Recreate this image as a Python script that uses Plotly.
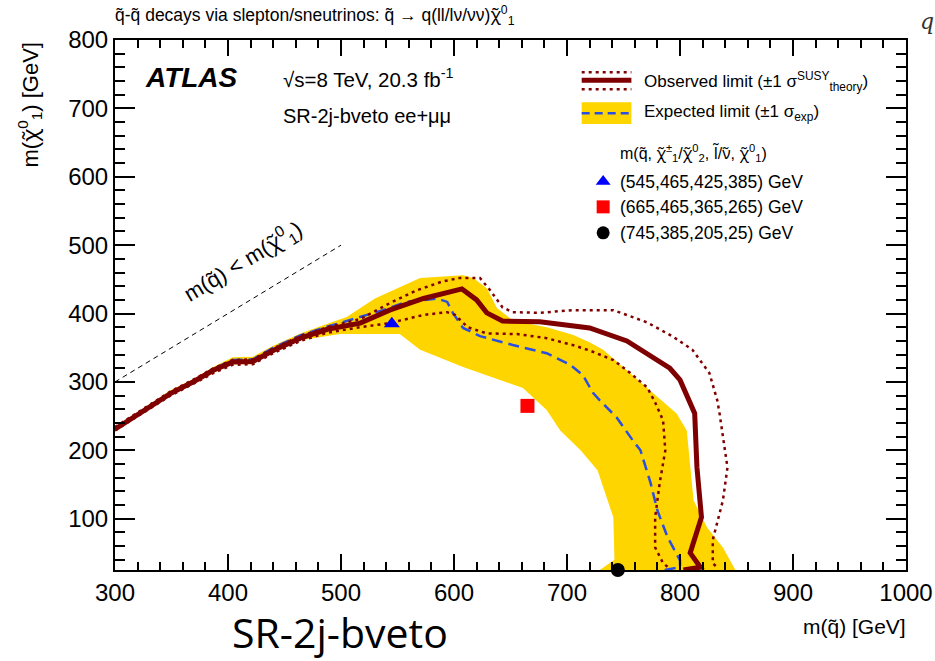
import plotly.graph_objects as go

# ---------------- data ----------------
obs_x = [300, 349, 369, 387, 404, 422, 440, 464, 488, 517, 543, 573, 607, 620, 629, 643, 676, 720, 753, 791, 800, 813, 815, 819, 809, 818, 803]
obs_y = [231, 283, 300, 317, 329, 330, 346, 364, 377, 386, 405, 422, 436, 420, 401, 389, 388, 379, 360, 320, 303, 254, 175, 102, 50, 29, 25]

obs_up_x = [300, 349, 369, 387, 404, 422, 440, 464, 488, 517, 543, 567, 590, 605, 623, 632, 643, 652, 676, 705, 720, 741, 771, 794, 811, 826, 833, 835, 842, 838, 829, 829, 834]
obs_up_y = [234, 286, 303, 320, 332, 333, 349, 367, 380, 392, 415, 434, 447, 452, 452, 434, 409, 402, 401, 405, 405, 405, 387, 366, 347, 313, 273, 254, 175, 127, 69, 35, 27]

obs_dn_x = [300, 349, 369, 387, 404, 422, 440, 464, 488, 517, 543, 573, 594, 601, 612, 629, 656, 682, 705, 720, 741, 756, 771, 778, 785, 787, 782, 778, 778, 785, 791]
obs_dn_y = [229, 280, 297, 313, 325, 326, 342, 360, 372, 380, 386, 398, 402, 398, 380, 371, 370, 364, 354, 346, 332, 313, 292, 270, 244, 200, 152, 102, 58, 35, 27]

exp_x = [300, 349, 369, 387, 404, 422, 440, 464, 488, 499, 537, 558, 585, 594, 599, 608, 623, 652, 682, 703, 714, 723, 729, 744, 758, 765, 774, 780, 789, 800, 800, 786]
exp_y = [230, 284, 301, 319, 332, 333, 350, 368, 381, 386, 405, 417, 422, 417, 401, 379, 367, 354, 342, 325, 310, 284, 273, 248, 215, 200, 152, 112, 73, 39, 29, 25]

band_up_x = [300, 349, 370, 387, 404, 422, 440, 464, 488, 505, 530, 570, 608, 617, 629, 638, 652, 682, 705, 720, 732, 756, 776, 797, 806, 809, 812, 824, 838, 849]
band_up_y = [233, 288, 305, 322, 336, 337, 353, 371, 385, 395, 422, 452, 456, 452, 437, 408, 390, 380, 369, 358, 347, 313, 284, 254, 229, 175, 127, 87, 58, 25]
band_dn_x = [729, 742, 741, 727, 712, 694, 682, 661, 608, 570, 552, 499, 464, 440, 422, 404, 387, 370, 349, 300]
band_dn_y = [25, 40, 102, 171, 200, 229, 259, 291, 322, 347, 370, 370, 361, 343, 326, 326, 313, 297, 280, 228]

kin_x = [300, 500]
kin_y = [300, 500]

pt_x = [545, 665, 745]
pt_y = [385, 265, 25]
pt_labels = ["(545,465,425,385) GeV", "(665,465,365,265) GeV", "(745,385,205,25) GeV"]
pt_symbols = ["triangle-up", "square", "circle"]
pt_colors = ["#0000ff", "#ff0000", "#000000"]

x_ticks = [300, 400, 500, 600, 700, 800, 900, 1000]
y_ticks = [100, 200, 300, 400, 500, 600, 700, 800]

# ---------------- styles ----------------
FONT = "Liberation Sans, Arial, Helvetica, sans-serif"
RED = "#7f0000"
BLUE = "#2a4fe0"
YEL = "#ffd500"
CHI = "<span style=\"font-family:'Noto Sans'\">χ̃</span>"
NU = "<span style=\"font-family:'Noto Sans'\">ν̃</span>"
LT = "<span style=\"font-family:'Noto Sans'\">l̃</span>"

fig = go.Figure()

fig.add_trace(go.Scatter(x=band_up_x + band_dn_x, y=band_up_y + band_dn_y, fill="toself",
                         fillcolor=YEL, line=dict(width=0), mode="lines", hoverinfo="skip"))
fig.add_trace(go.Scatter(x=kin_x, y=kin_y, mode="lines",
                         line=dict(color="black", width=1, dash="5px,4px")))
fig.add_trace(go.Scatter(x=exp_x, y=exp_y, mode="lines",
                         line=dict(color=BLUE, width=2.5, dash="11px,6px")))
fig.add_trace(go.Scatter(x=obs_up_x, y=obs_up_y, mode="lines",
                         line=dict(color=RED, width=2.5, dash="3px,4px")))
fig.add_trace(go.Scatter(x=obs_dn_x, y=obs_dn_y, mode="lines",
                         line=dict(color=RED, width=2.5, dash="3px,4px")))
fig.add_trace(go.Scatter(x=obs_x, y=obs_y, mode="lines",
                         line=dict(color=RED, width=5)))
for i in range(len(pt_x)):
    fig.add_trace(go.Scatter(x=[pt_x[i]], y=[pt_y[i]], mode="markers", cliponaxis=False,
                             marker=dict(symbol=pt_symbols[i], color=pt_colors[i], size=14,
                                         line=dict(width=0))))

# ---------------- legend (drawn by hand, ROOT style) ----------------
lx0, lx1 = 713, 757
fig.add_shape(type="line", xref="x", yref="y", x0=lx0, x1=lx1, y0=753, y1=753,
              line=dict(color=RED, width=2.5, dash="3px,4px"))
fig.add_shape(type="line", xref="x", yref="y", x0=lx0, x1=lx1, y0=728, y1=728,
              line=dict(color=RED, width=2.5, dash="3px,4px"))
fig.add_shape(type="line", xref="x", yref="y", x0=lx0, x1=lx1, y0=741, y1=741,
              line=dict(color=RED, width=5))
fig.add_shape(type="rect", xref="x", yref="y", x0=lx0, x1=lx1, y0=677, y1=709,
              fillcolor=YEL, line=dict(width=0))
fig.add_shape(type="line", xref="x", yref="y", x0=lx0, x1=lx1, y0=693, y1=693,
              line=dict(color=BLUE, width=2.5, dash="8px,5px"))

leg_text_x = 766
fig.add_annotation(x=leg_text_x, y=739, xref="x", yref="y", xanchor="left", yanchor="middle",
                   text="Observed limit (±1 σ<sup>SUSY</sup><sub>theory</sub>)", showarrow=False,
                   font=dict(family=FONT, size=17, color="black"))
fig.add_annotation(x=leg_text_x, y=693, xref="x", yref="y", xanchor="left", yanchor="middle",
                   text="Expected limit (±1 σ<sub>exp</sub>)", showarrow=False,
                   font=dict(family=FONT, size=17, color="black"))
fig.add_annotation(x=745, y=635, xref="x", yref="y", xanchor="left", yanchor="middle",
                   text="m(q̃, " + CHI + "<sup>±</sup><sub>1</sub>/" + CHI + "<sup>0</sup><sub>2</sub>, "
                        + LT + "/" + NU + ", " + CHI + "<sup>0</sup><sub>1</sub>)",
                   showarrow=False, font=dict(family=FONT, size=16, color="black"))
leg_pt_y = [593, 556, 518]
for i in range(len(pt_x)):
    fig.add_trace(go.Scatter(x=[732], y=[leg_pt_y[i]], mode="markers",
                             marker=dict(symbol=pt_symbols[i], color=pt_colors[i], size=13,
                                         line=dict(width=0))))
    fig.add_annotation(x=745, y=leg_pt_y[i], xref="x", yref="y", xanchor="left", yanchor="middle",
                       text=pt_labels[i], showarrow=False,
                       font=dict(family=FONT, size=17.5, color="black"))

# ---------------- texts ----------------
fig.add_annotation(x=325, y=745, xref="x", yref="y", xanchor="left", yanchor="middle",
                   text="<b><i>ATLAS</i></b>", showarrow=False,
                   font=dict(family=FONT, size=28, color="black"))
fig.add_annotation(x=447, y=744, xref="x", yref="y", xanchor="left", yanchor="middle",
                   text="√s=8 TeV, 20.3 fb<sup>-1</sup>", showarrow=False,
                   font=dict(family=FONT, size=20.5, color="black"))
fig.add_annotation(x=447, y=689, xref="x", yref="y", xanchor="left", yanchor="middle",
                   text="SR-2j-bveto ee+μμ", showarrow=False,
                   font=dict(family=FONT, size=20, color="black"))
fig.add_annotation(x=413, y=477, xref="x", yref="y", xanchor="center", yanchor="middle",
                   text="m(q̃) < m(" + CHI + "<sup>0</sup><sub>1</sub>)", showarrow=False, textangle=-31,
                   font=dict(family=FONT, size=22, color="black"))

fig.add_annotation(x=-0.003, y=1.047, xref="paper", yref="paper", xanchor="left", yanchor="middle",
                   text="q̃-q̃ decays via slepton/sneutrinos: q̃ → q(ll/lν/νν)" + CHI + "<sup>0</sup><sub>1</sub>",
                   showarrow=False, font=dict(family=FONT, size=17.5, color="black"))
fig.add_annotation(x=1.027, y=1.034, xref="paper", yref="paper", xanchor="center", yanchor="middle",
                   text="<i>q</i>", showarrow=False,
                   font=dict(family="DejaVu Serif, serif", size=22, color="#333333"))
fig.add_annotation(x=-0.108, y=1.0, xref="paper", yref="paper", xanchor="center", yanchor="top",
                   text="m(" + CHI + "<sup>0</sup><sub>1</sub>) [GeV]", showarrow=False, textangle=-90,
                   font=dict(family=FONT, size=22, color="black"))
fig.add_annotation(x=1.003, y=-0.107, xref="paper", yref="paper", xanchor="right", yanchor="middle",
                   text="m(q̃) [GeV]", showarrow=False,
                   font=dict(family=FONT, size=21, color="black"))
fig.add_annotation(x=0.285, y=-0.117, xref="paper", yref="paper", xanchor="center", yanchor="middle",
                   text="SR-2j-bveto", showarrow=False,
                   font=dict(family="Open Sans, Lato, sans-serif", size=41, color="black"))

axis_common = dict(showgrid=False, zeroline=False, showline=True, linecolor="black", linewidth=2,
                   mirror="ticks", ticks="inside", tickcolor="black", tickwidth=1.5, automargin=False,
                   tickfont=dict(family=FONT, size=24, color="black"))
fig.update_xaxes(range=[300, 1000], tickvals=x_ticks, ticktext=[str(v) for v in x_ticks], ticklen=16,
                 minor=dict(dtick=20, tick0=300, ticks="inside", ticklen=8, tickcolor="black", tickwidth=1.5),
                 **axis_common)
fig.update_yaxes(range=[25, 800], tickvals=y_ticks, ticktext=[str(v) for v in y_ticks], ticklen=20,
                 minor=dict(dtick=20, tick0=0, ticks="inside", ticklen=10, tickcolor="black", tickwidth=1.5),
                 **axis_common)

fig.update_layout(width=935, height=661, margin=dict(l=115, r=29, t=40, b=91, autoexpand=False),
                  paper_bgcolor="white", plot_bgcolor="white", showlegend=False,
                  font=dict(family=FONT, color="black"))

fig.write_html("out.html")
